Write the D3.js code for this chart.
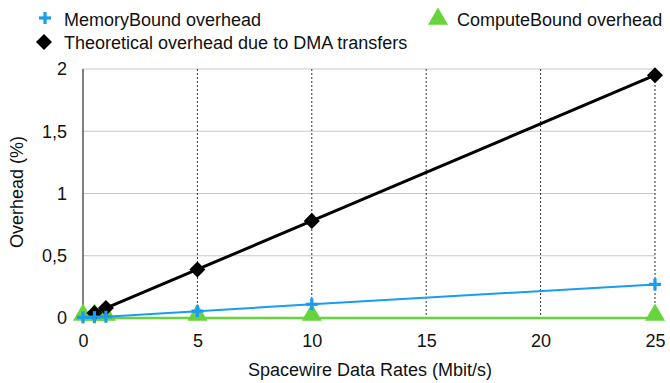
<!DOCTYPE html>
<html><head><meta charset="utf-8">
<script src="https://cdn.jsdelivr.net/npm/d3@7"></script>
<style>body{margin:0;background:#fff}svg{display:block;font-family:"Liberation Sans",Arial,sans-serif}</style>
</head><body><svg id="c" width="670" height="383"></svg>
<script>
const rates = [0, 0.5, 1, 5, 10, 25];
const theoretical = [null, 0.04, 0.08, 0.39, 0.78, 1.95];
const memoryBound = [0.005, 0.007, 0.01, 0.055, 0.11, 0.27];
const computeBound = [0, 0, 0, 0, 0, 0];
const xTicks = [0, 5, 10, 15, 20, 25];
const yTicks = [0, 0.5, 1, 1.5, 2];
const yTickLabels = ["0", "0,5", "1", "1,5", "2"];

const svg = d3.select("#c");
const x = d3.scaleLinear().domain([0, 25]).range([83, 655]);
const y = d3.scaleLinear().domain([0, 2]).range([318, 69]);
const FS = 18;

// horizontal gridlines
svg.append("g").selectAll("line").data(yTicks.filter(d => d > 0)).join("line")
  .attr("x1", x(0)).attr("x2", x(25)).attr("y1", d => y(d)).attr("y2", d => y(d))
  .attr("stroke", "#c8c8c8").attr("stroke-width", 1);
// vertical dotted gridlines
svg.append("g").selectAll("line").data(xTicks.filter(d => d > 0)).join("line")
  .attr("x1", d => x(d)).attr("x2", d => x(d)).attr("y1", y(2)).attr("y2", y(0))
  .attr("stroke", "#333").attr("stroke-width", 1).attr("stroke-dasharray", "2,2");
// left axis line
svg.append("line").attr("x1", x(0)).attr("x2", x(0)).attr("y1", y(2)).attr("y2", y(0))
  .attr("stroke", "#000").attr("stroke-width", 1);

// axes labels
const xAxis = d3.axisBottom(x).tickValues(xTicks).tickSize(0).tickPadding(16).tickFormat(d3.format("d"));
const gx = svg.append("g").attr("transform", `translate(0,${y(0)})`).call(xAxis);
gx.select(".domain").remove();
gx.selectAll("text").attr("font-size", FS).attr("fill", "#111").attr("font-family", "Liberation Sans, Arial, sans-serif");
const yAxis = d3.axisLeft(y).tickValues(yTicks).tickSize(0).tickPadding(16).tickFormat((d, i) => yTickLabels[i]);
const gy = svg.append("g").attr("transform", `translate(${x(0)},0)`).call(yAxis);
gy.select(".domain").remove();
gy.selectAll("text").attr("font-size", FS).attr("fill", "#111").attr("font-family", "Liberation Sans, Arial, sans-serif");

svg.append("text").attr("x", 370).attr("y", 376).attr("text-anchor", "middle").attr("fill", "#111")
  .attr("font-size", FS).text("Spacewire Data Rates (Mbit/s)");
svg.append("text").attr("transform", "translate(23,192) rotate(-90)").attr("text-anchor", "middle").attr("fill", "#111")
  .attr("font-size", FS).text("Overhead (%)");

const line = d3.line().defined(d => d !== null).x((d, i) => x(rates[i])).y(d => y(d));
const diamond = d3.symbol().type(d3.symbolDiamond2).size(165);
const tri = d3.symbol().type(d3.symbolTriangle).size(175);
const cross = (cx, cy, g, col) => {
  g.append("rect").attr("x", cx - 6).attr("y", cy - 1.6).attr("width", 12).attr("height", 3.2).attr("fill", col);
  g.append("rect").attr("x", cx - 1.6).attr("y", cy - 6).attr("width", 3.2).attr("height", 12).attr("fill", col);
};
const blue = "#1a9cf0", green = "#66d43a";

// compute bound
svg.append("path").attr("d", line(computeBound)).attr("fill", "none").attr("stroke", green).attr("stroke-width", 2.5);
svg.append("g").selectAll("path").data(computeBound).join("path")
  .attr("d", tri).attr("transform", (d, i) => `translate(${x(rates[i])},${y(d) - 3})`).attr("fill", green);
// theoretical
svg.append("path").attr("d", line(theoretical)).attr("fill", "none").attr("stroke", "#000").attr("stroke-width", 3);
svg.append("g").selectAll("path").data(rates.map((r, i) => [r, theoretical[i]]).filter(p => p[1] !== null)).join("path")
  .attr("d", diamond).attr("transform", p => `translate(${x(p[0])},${y(p[1])})`).attr("fill", "#000");
// memory bound
svg.append("path").attr("d", line(memoryBound)).attr("fill", "none").attr("stroke", blue).attr("stroke-width", 2);
const gm = svg.append("g");
memoryBound.forEach((d, i) => cross(x(rates[i]), y(d), gm, blue));

// legend
const lg = svg.append("g");
cross(45, 18, lg, blue);
lg.append("text").attr("x", 64).attr("y", 26).attr("font-size", FS).attr("fill", "#111").text("MemoryBound overhead");
lg.append("path").attr("d", tri).attr("transform", "translate(438,19)").attr("fill", green);
lg.append("text").attr("x", 457).attr("y", 26).attr("font-size", FS).attr("fill", "#111").text("ComputeBound overhead");
lg.append("path").attr("d", diamond).attr("transform", "translate(44,42)").attr("fill", "#000");
lg.append("text").attr("x", 64).attr("y", 49).attr("font-size", FS).attr("fill", "#111").text("Theoretical overhead due to DMA transfers");
</script></body></html>
